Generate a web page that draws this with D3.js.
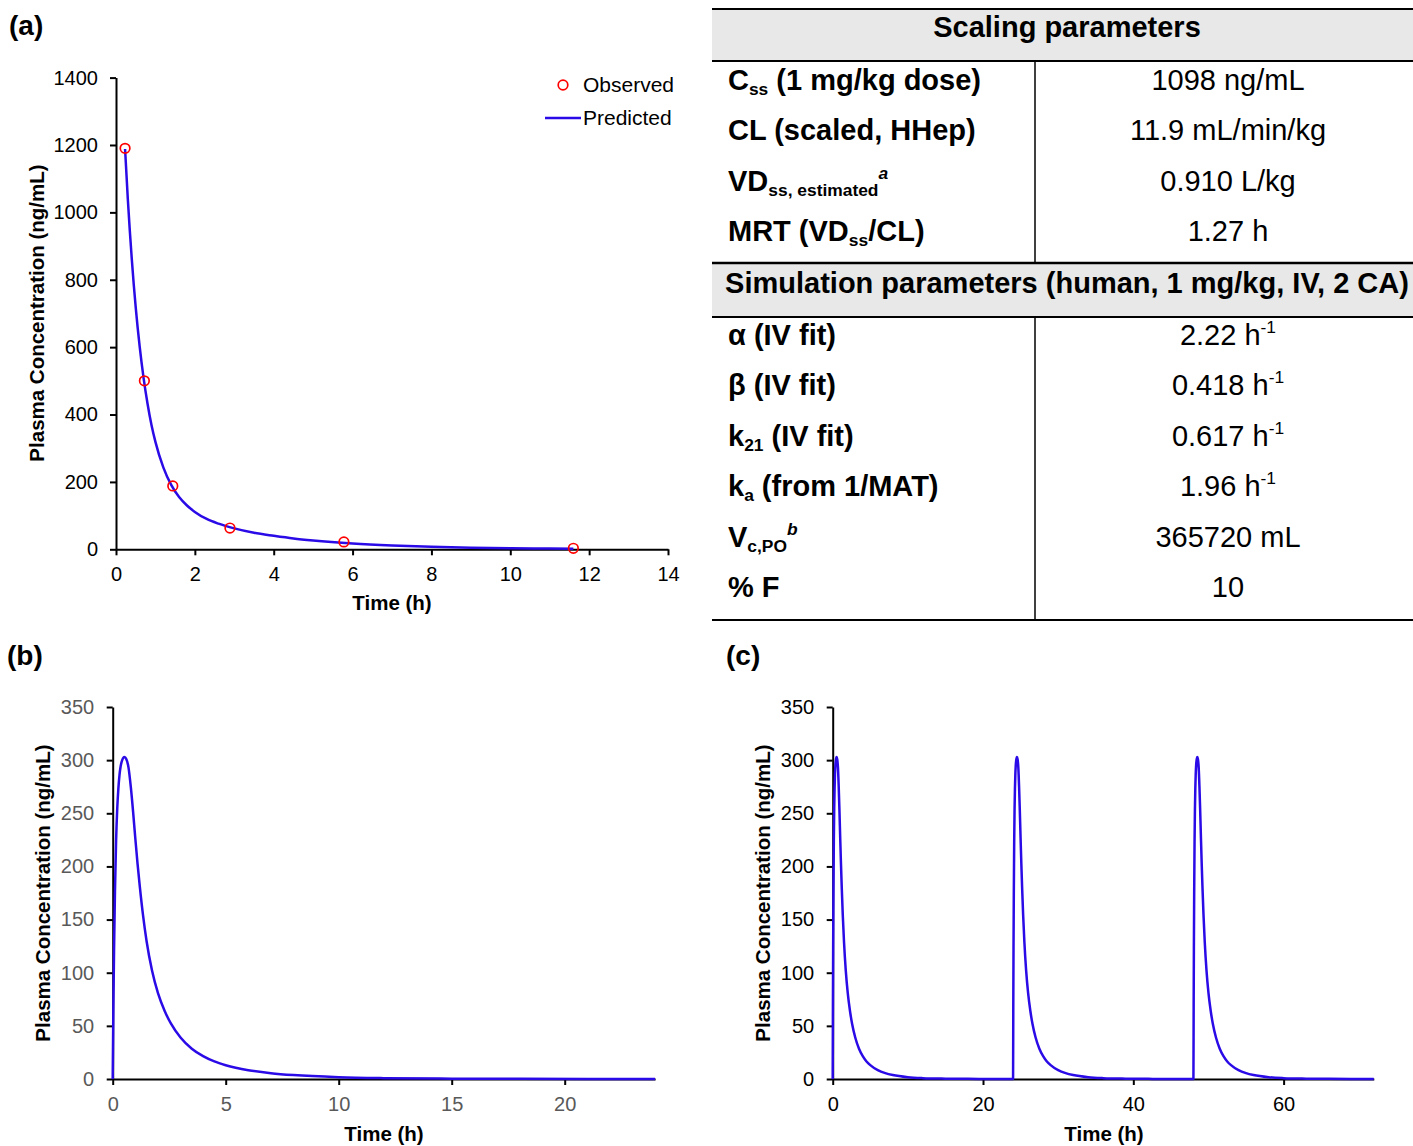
<!DOCTYPE html>
<html>
<head>
<meta charset="utf-8">
<script src="https://cdn.jsdelivr.net/npm/d3@7"></script>
<style>
  html, body { margin: 0; padding: 0; background: #fff; }
  svg { display: block; font-family: "Liberation Sans", Arial, sans-serif; }
</style>
</head>
<body>
<svg id="chart" width="1413" height="1146"></svg>
<script>
// ---------------- DATA ----------------
// Panel (a): IV profile
const obsTime = [0.23, 0.72, 1.44, 2.89, 5.78, 11.6];
const obsConc = [1190, 500, 188, 63, 22, 3];
const predTime = [0.23, 0.3, 0.35, 0.4, 0.45, 0.5, 0.6, 0.7, 0.8, 0.9, 1.0, 1.2, 1.4, 1.6, 1.8, 2.0, 2.3, 2.6, 3.0, 3.5, 4.0, 4.5, 5.0, 6, 7, 8, 9, 10, 11, 11.6];
const predConc = [1188, 1039, 946, 862, 786, 718, 602, 508, 432, 369, 319, 243, 191, 155, 130, 111, 90, 76, 62, 49, 40, 32, 26, 17.1, 11.3, 7.4, 4.9, 3.2, 2.1, 1.6];
const aXTicks = [0, 2, 4, 6, 8, 10, 12, 14];
const aYTicks = [0, 200, 400, 600, 800, 1000, 1200, 1400];

// Panel (b): single oral dose
const bTime = [0, 0.03, 0.06, 0.1, 0.15, 0.2, 0.25, 0.3, 0.35, 0.42, 0.52, 0.6, 0.7, 0.8, 0.9, 1.0, 1.1, 1.2, 1.34, 1.5, 1.74, 2.0, 2.3, 2.58, 3.0, 3.5, 4.0, 4.5, 5.0, 6, 7, 8, 10, 12, 15, 18, 21, 24];
const bConc = [0, 68, 122, 176, 224, 254, 273, 286, 294, 300, 303, 301, 293, 275, 252, 226.5, 202.5, 181, 154.4, 129.6, 102, 81, 64, 52, 39, 28.5, 21.5, 16.5, 13, 8.3, 5.5, 3.7, 1.7, 0.8, 0.3, 0.12, 0.05, 0.02];
const bXTicks = [0, 5, 10, 15, 20];
const bYTicks = [0, 50, 100, 150, 200, 250, 300, 350];

// Panel (c): three oral doses, every 24 h
const cTime = [0, 0.03, 0.06, 0.1, 0.15, 0.2, 0.25, 0.3, 0.35, 0.42, 0.52, 0.6, 0.7, 0.8, 0.9, 1.0, 1.1, 1.2, 1.34, 1.5, 1.74, 2.0, 2.3, 2.58, 3.0, 3.5, 4.0, 4.5, 5.0, 6, 7, 8, 10, 12, 15, 18, 21, 23.97,
               24, 24.03, 24.06, 24.1, 24.15, 24.2, 24.25, 24.3, 24.35, 24.42, 24.52, 24.6, 24.7, 24.8, 24.9, 25.0, 25.1, 25.2, 25.34, 25.5, 25.74, 26.0, 26.3, 26.58, 27.0, 27.5, 28.0, 28.5, 29.0, 30, 31, 32, 34, 36, 39, 42, 45, 47.97,
               48, 48.03, 48.06, 48.1, 48.15, 48.2, 48.25, 48.3, 48.35, 48.42, 48.52, 48.6, 48.7, 48.8, 48.9, 49.0, 49.1, 49.2, 49.34, 49.5, 49.74, 50.0, 50.3, 50.58, 51.0, 51.5, 52.0, 52.5, 53.0, 54, 55, 56, 58, 60, 63, 66, 69, 72];
const cConc = [0, 68, 122, 176, 224, 254, 273, 286, 294, 300, 303, 301, 293, 275, 252, 226.5, 202.5, 181, 154.4, 129.6, 102, 81, 64, 52, 39, 28.5, 21.5, 16.5, 13, 8.3, 5.5, 3.7, 1.7, 0.8, 0.3, 0.12, 0.05, 0.02,
               0.02, 68, 122, 176, 224, 254, 273, 286, 294, 300, 303, 301, 293, 275, 252, 226.5, 202.5, 181, 154.4, 129.6, 102, 81, 64, 52, 39, 28.5, 21.5, 16.5, 13, 8.3, 5.5, 3.7, 1.7, 0.8, 0.3, 0.12, 0.05, 0.02,
               0.02, 68, 122, 176, 224, 254, 273, 286, 294, 300, 303, 301, 293, 275, 252, 226.5, 202.5, 181, 154.4, 129.6, 102, 81, 64, 52, 39, 28.5, 21.5, 16.5, 13, 8.3, 5.5, 3.7, 1.7, 0.8, 0.3, 0.12, 0.05, 0.02];
const cXTicks = [0, 20, 40, 60];
const cYTicks = [0, 50, 100, 150, 200, 250, 300, 350];

// Table content
const scalingHeader = "Scaling parameters";
const scalingLabels = [
  [["C", "n"], ["ss", "sub"], [" (1 mg/kg dose)", "n"]],
  [["CL (scaled, HHep)", "n"]],
  [["VD", "n"], ["ss, estimated", "sub"], ["a", "sup"]],
  [["MRT (VD", "n"], ["ss", "sub"], ["/CL)", "n"]]
];
const scalingValues = [
  [["1098 ng/mL", "n"]],
  [["11.9 mL/min/kg", "n"]],
  [["0.910 L/kg", "n"]],
  [["1.27 h", "n"]]
];
const simHeader = "Simulation parameters (human, 1 mg/kg, IV, 2 CA)";
const simLabels = [
  [["α (IV fit)", "n"]],
  [["β (IV fit)", "n"]],
  [["k", "n"], ["21", "sub"], [" (IV fit)", "n"]],
  [["k", "n"], ["a", "sub"], [" (from 1/MAT)", "n"]],
  [["V", "n"], ["c,PO", "sub"], ["b", "sup"]],
  [["% F", "n"]]
];
const simValues = [
  [["2.22 h", "n"], ["-1", "sup"]],
  [["0.418 h", "n"], ["-1", "sup"]],
  [["0.617 h", "n"], ["-1", "sup"]],
  [["1.96 h", "n"], ["-1", "sup"]],
  [["365720 mL", "n"]],
  [["10", "n"]]
];

// ---------------- DRAW ----------------
const svg = d3.select("#chart");
const LINE = "#2a0ae6";

function panel(o) {
  const g = svg.append("g");
  const x = d3.scaleLinear().domain(o.xDomain).range(o.xRange);
  const y = d3.scaleLinear().domain(o.yDomain).range(o.yRange);

  const xAxis = g.append("g").attr("transform", `translate(0,${o.yRange[0]})`)
    .call(d3.axisBottom(x).tickValues(o.xTicks).tickFormat(d3.format("d")).tickSize(6).tickSizeOuter(0).tickPadding(o.padX));
  const yAxis = g.append("g").attr("transform", `translate(${o.xRange[0]},0)`)
    .call(d3.axisLeft(y).tickValues(o.yTicks).tickFormat(d3.format("d")).tickSize(6).tickSizeOuter(0).tickPadding(o.padY));
  [xAxis, yAxis].forEach(a => {
    a.select(".domain").attr("stroke", "#000").attr("stroke-width", 2);
    a.selectAll(".tick line").attr("stroke", "#000").attr("stroke-width", 2);
    a.selectAll(".tick text").attr("font-size", o.tickFont).attr("fill", o.tickColor)
      .attr("font-family", "'Liberation Sans', Arial, sans-serif");
  });

  const line = d3.line().x(d => x(d[0])).y(d => y(d[1])).curve(d3.curveMonotoneX);
  g.append("path").datum(o.lineT.map((t, i) => [t, o.lineC[i]]))
    .attr("d", line).attr("fill", "none").attr("stroke", LINE).attr("stroke-width", 2.5)
    .attr("stroke-linejoin", "round");

  if (o.obsT) {
    g.selectAll("circle.obs").data(o.obsT.map((t, i) => [t, o.obsC[i]])).enter()
      .append("circle").attr("class", "obs")
      .attr("cx", d => x(d[0])).attr("cy", d => y(d[1])).attr("r", 4.8)
      .attr("fill", "none").attr("stroke", "#ff0000").attr("stroke-width", 1.7);
  }

  // axis titles
  g.append("text").attr("x", o.xTitle[0]).attr("y", o.xTitle[1]).attr("text-anchor", "middle")
    .attr("font-weight", "bold").attr("font-size", 20.5).text("Time (h)");
  g.append("text").attr("transform", `translate(${o.yTitle[0]},${o.yTitle[1]}) rotate(-90)`)
    .attr("text-anchor", "middle").attr("font-weight", "bold").attr("font-size", 20.5)
    .text("Plasma Concentration (ng/mL)");
  // panel label
  g.append("text").attr("x", o.label[0]).attr("y", o.label[1]).attr("font-weight", "bold")
    .attr("font-size", 28).text(o.label[2]);
  return {g, x, y};
}

const pa = panel({
  xDomain: [0, 14], xRange: [116, 668], yDomain: [0, 1400], yRange: [549.3, 77.6],
  xTicks: aXTicks, yTicks: aYTicks, padX: 12, padY: 12, tickFont: 20, tickColor: "#000",
  lineT: predTime, lineC: predConc, obsT: obsTime, obsC: obsConc,
  xTitle: [392, 610], yTitle: [44, 313], label: [9, 35, "(a)"]
});

// legend panel (a)
const lg = pa.g.append("g");
lg.append("circle").attr("cx", 563).attr("cy", 85).attr("r", 4.8).attr("fill", "none")
  .attr("stroke", "#ff0000").attr("stroke-width", 1.7);
lg.append("text").attr("x", 583).attr("y", 92).attr("font-size", 21).text("Observed");
lg.append("line").attr("x1", 545).attr("x2", 581).attr("y1", 118).attr("y2", 118)
  .attr("stroke", LINE).attr("stroke-width", 2.5);
lg.append("text").attr("x", 583).attr("y", 125).attr("font-size", 21).text("Predicted");

panel({
  xDomain: [0, 24], xRange: [112.7, 655.1], yDomain: [0, 350], yRange: [1079, 707],
  xTicks: bXTicks, yTicks: bYTicks, padX: 12, padY: 12.5, tickFont: 20, tickColor: "#595959",
  lineT: bTime, lineC: bConc,
  xTitle: [384, 1141], yTitle: [50, 893], label: [7, 665, "(b)"]
});

panel({
  xDomain: [0, 72], xRange: [832.7, 1373.8], yDomain: [0, 350], yRange: [1079, 707],
  xTicks: cXTicks, yTicks: cYTicks, padX: 12, padY: 12.5, tickFont: 20, tickColor: "#000",
  lineT: cTime, lineC: cConc,
  xTitle: [1104, 1141], yTitle: [770, 893], label: [726, 665, "(c)"]
});

// ---------------- TABLE ----------------
const tb = svg.append("g");
const TX0 = 712, TX1 = 1413, DIV = 1035, VALX = 1228, LABX = 728;
const TFS = 29;
tb.append("rect").attr("x", TX0).attr("y", 9).attr("width", TX1 - TX0).attr("height", 52).attr("fill", "#e8e8e8");
tb.append("rect").attr("x", TX0).attr("y", 263).attr("width", TX1 - TX0).attr("height", 54).attr("fill", "#e8e8e8");
[[9, 2], [61, 2], [263, 2.5], [317, 2], [620, 2]].forEach(([yy, w]) => {
  tb.append("line").attr("x1", TX0).attr("x2", TX1).attr("y1", yy).attr("y2", yy)
    .attr("stroke", "#000").attr("stroke-width", w);
});
tb.append("line").attr("x1", DIV).attr("x2", DIV).attr("y1", 61).attr("y2", 263).attr("stroke", "#000").attr("stroke-width", 1.5);
tb.append("line").attr("x1", DIV).attr("x2", DIV).attr("y1", 317).attr("y2", 620).attr("stroke", "#000").attr("stroke-width", 1.5);

function rich(x, y, parts, opts) {
  const t = tb.append("text").attr("x", x).attr("y", y).attr("font-size", opts.size)
    .attr("font-weight", opts.bold ? "bold" : "normal").attr("text-anchor", opts.anchor || "start");
  let shift = 0;
  parts.forEach(([txt, kind]) => {
    const s = t.append("tspan").text(txt);
    let target = 0;
    if (kind === "sub") { s.attr("font-size", opts.size * 0.6); target = opts.size * 0.18; }
    else if (kind === "sup") { s.attr("font-size", opts.size * 0.6); target = -opts.size * 0.4; }
    if (kind === "sup" && opts.bold) s.attr("font-style", "italic");
    s.attr("dy", target - shift);
    shift = target;
  });
  return t;
}

tb.append("text").attr("x", 1067).attr("y", 37).attr("text-anchor", "middle")
  .attr("font-weight", "bold").attr("font-size", TFS).text(scalingHeader);
tb.append("text").attr("x", 1067).attr("y", 293).attr("text-anchor", "middle")
  .attr("font-weight", "bold").attr("font-size", TFS).text(simHeader);

const scalingY = [90, 140, 191, 241];
scalingLabels.forEach((p, i) => rich(LABX, scalingY[i], p, {size: TFS, bold: true}));
scalingValues.forEach((p, i) => rich(VALX, scalingY[i], p, {size: TFS, bold: false, anchor: "middle"}));
const simY = [345, 395, 446, 496, 547, 597];
simLabels.forEach((p, i) => rich(LABX, simY[i], p, {size: TFS, bold: true}));
simValues.forEach((p, i) => rich(VALX, simY[i], p, {size: TFS, bold: false, anchor: "middle"}));
</script>
</body>
</html>
